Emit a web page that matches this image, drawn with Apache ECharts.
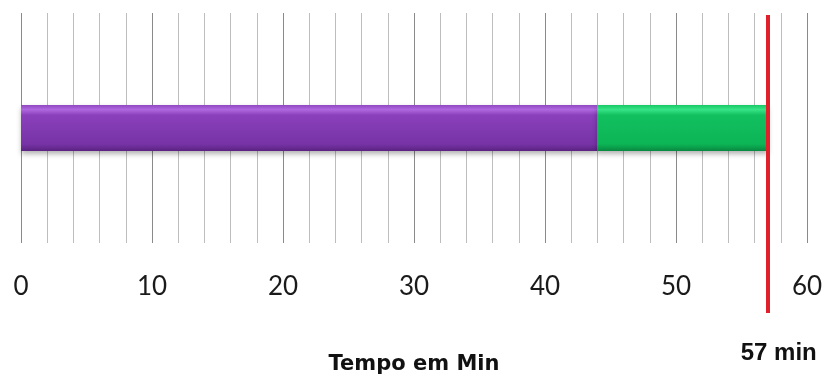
<!DOCTYPE html>
<html>
<head>
<meta charset="utf-8">
<script src="https://cdn.jsdelivr.net/npm/echarts@6/dist/echarts.min.js"></script>
<style>
  html, body { margin: 0; padding: 0; background: #fff; }
  #chart { width: 827px; height: 380px; }
</style>
</head>
<body>
<div id="chart"></div>
<script>
const categories = ["Tempo"];
const purpleValues = [44];
const greenValues = [13];
const limitValue = 57;
const limitLabel = "57 min";
const axisTitle = "Tempo em Min";

const font = "Lato, 'Open Sans', sans-serif";

// darker line every 10 min, lighter every 2
const gridColors = ["#8a8a8a", "#bdbdbd", "#bdbdbd", "#bdbdbd", "#bdbdbd"];

const chart = echarts.init(document.getElementById("chart"), null, { renderer: "canvas" });

chart.setOption({
  animation: false,
  grid: [
    { left: 21, right: 20, top: 13, bottom: 130 },
    // second grid only used to draw the red limit line, which runs taller
    { left: 21, right: 20, top: 15, bottom: 67 }
  ],
  xAxis: [
    {
      type: "value", gridIndex: 0, min: 0, max: 60, interval: 2,
      axisLine: { show: false },
      axisTick: { show: false },
      splitLine: { show: true, lineStyle: { color: gridColors, width: 1 } },
      axisLabel: {
        margin: 31, color: "#1a1a1a", fontSize: 26, fontFamily: font,
        formatter: v => (v % 10 === 0 ? String(v) : "")
      },
      name: axisTitle, nameLocation: "middle", nameGap: 111,
      nameTextStyle: { color: "#111", fontSize: 21, fontWeight: "bold", fontFamily: "'DejaVu Sans', sans-serif" }
    },
    {
      type: "value", gridIndex: 1, min: 0, max: 60, show: false
    }
  ],
  yAxis: [
    { type: "category", gridIndex: 0, data: categories, show: false },
    { type: "category", gridIndex: 1, data: categories, show: false }
  ],
  series: [
    {
      type: "bar", stack: "t", xAxisIndex: 0, yAxisIndex: 0,
      data: purpleValues, barWidth: 46,
      itemStyle: {
        color: new echarts.graphic.LinearGradient(0, 0, 0, 1, [
          { offset: 0, color: "#9048c0" },
          { offset: 0.1, color: "#b068e0" },
          { offset: 0.22, color: "#8a40bb" },
          { offset: 0.85, color: "#7733a6" },
          { offset: 1, color: "#5a2282" }
        ]),
        shadowColor: "rgba(0,0,0,0.3)", shadowBlur: 5, shadowOffsetY: 3
      }
    },
    {
      type: "bar", stack: "t", xAxisIndex: 0, yAxisIndex: 0,
      data: greenValues, barWidth: 46,
      itemStyle: {
        color: new echarts.graphic.LinearGradient(0, 0, 0, 1, [
          { offset: 0, color: "#18c866" },
          { offset: 0.1, color: "#38e486" },
          { offset: 0.22, color: "#12c060" },
          { offset: 0.85, color: "#0cb556" },
          { offset: 1, color: "#08883f" }
        ]),
        shadowColor: "rgba(0,0,0,0.3)", shadowBlur: 5, shadowOffsetY: 3
      }
    },
    {
      type: "scatter", xAxisIndex: 1, yAxisIndex: 1, data: [], silent: true,
      markLine: {
        silent: true, symbol: "none",
        lineStyle: { color: "#e0202a", width: 4, type: "solid" },
        label: {
          show: true, position: "start", distance: 28,
          padding: [0, 0, 0, 22],
          formatter: limitLabel, color: "#111", fontSize: 24,
          fontWeight: "bold", fontFamily: "'Liberation Sans', Arial, sans-serif"
        },
        data: [{ xAxis: limitValue }]
      }
    }
  ]
});
</script>
</body>
</html>
